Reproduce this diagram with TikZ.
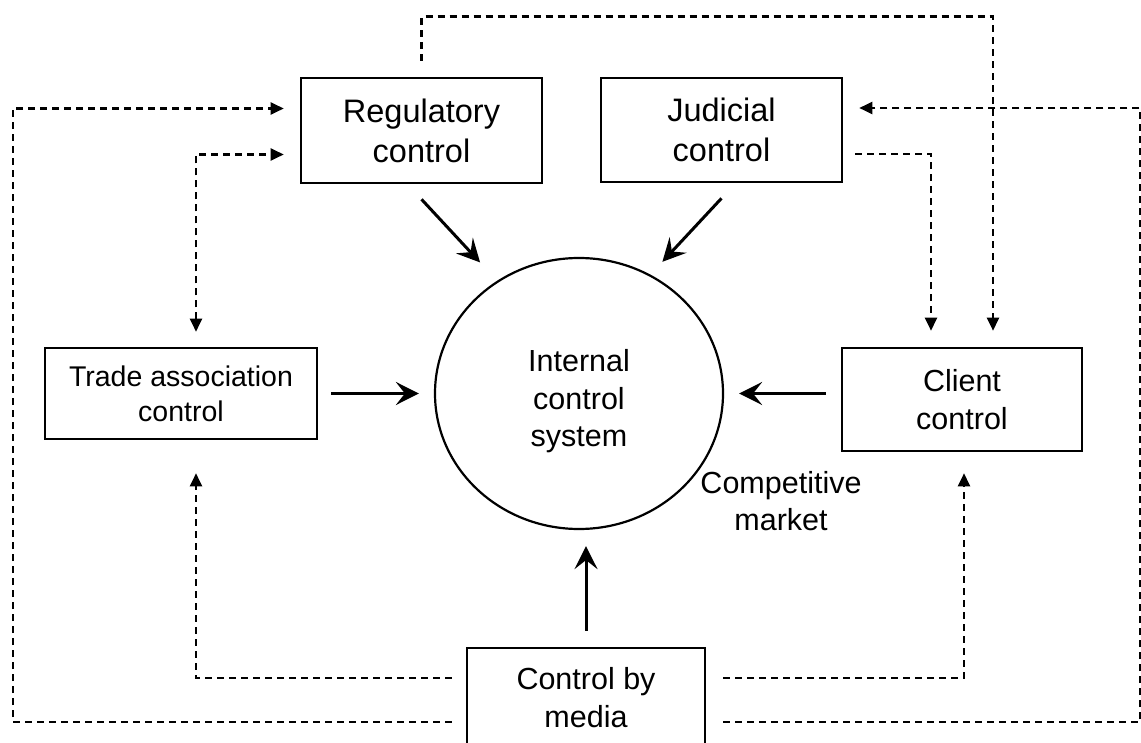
\documentclass[tikz,border=0pt]{standalone}
\usepackage{fontspec}
\setmainfont{Liberation Sans}
\usepackage{tikz}
\usetikzlibrary{shapes,arrows.meta}

\begin{document}
\begin{tikzpicture}[x=1pt,y=1pt,
    >={Triangle[length=13pt,width=12pt]},
    box/.style={draw=black,line width=2.6pt,minimum width=241pt,minimum height=104pt,inner sep=0pt,align=center,font=\fontsize{30.5}{38}\selectfont},
    lbl/.style={inner sep=0pt,align=center,font=\fontsize{30.5}{37.5}\selectfont},
    flow/.style={line width=3pt,-{Stealth[length=23pt,width=23pt,inset=9pt]}},
    dflow/.style={line width=2.4pt,dash pattern=on 7pt off 5pt,->}]
      \useasboundingbox (0,0) rectangle (1141,-743);
      \node[box,minimum height=105pt,font=\fontsize{32.5}{40}\selectfont] (reg) at (421.5,-130.5) {Regulatory\\control};
      \node[box,font=\fontsize{32.5}{40}\selectfont] (jud) at (721.5,-130) {Judicial\\control};
      \node[box,minimum width=272pt,minimum height=91pt,font=\fontsize{28.5}{35}\selectfont] (trade) at (181,-393.5) {Trade association\\control};
      \node[box,minimum width=240pt,minimum height=103pt] (client) at (962,-399.5) {Client\\control};
      \node[box,minimum width=238pt,minimum height=100pt] (media) at (586,-698) {Control by\\media};
      \node[draw=black,line width=2.2pt,ellipse,minimum width=288pt,minimum height=271pt,inner sep=0pt] (ics) at (579,-393.5) {};
      \node[lbl] (icstext) at ([yshift=-8pt]ics.center) {Internal\\control\\system};
      \node[lbl] (market) at (781,-501) {Competitive\\market};
      \draw[flow,shorten >=25pt] ([yshift=-15pt]reg.south) -- (ics.126);
      \draw[flow,shorten >=17.5pt] ([yshift=-15pt]jud.south) -- (ics.59);
      \draw[flow,shorten <=13pt,shorten >=15pt] (trade.east) -- (ics.west);
      \draw[flow,shorten <=15pt,shorten >=15pt] (client.west |- ics.east) -- (ics.east);
      \draw[flow,shorten <=16pt,shorten >=16pt] (media.north) -- (media.north |- ics.south);
      \draw[dflow] ([yshift=16pt]reg.north) -- ++(0,44) -| ([shift={(31,16)}]client.north);
      \draw[dflow] ([shift={(17,-24)}]media.east) -- ++(417,0) |- ([shift={(16,22)}]jud.east);
      \draw[dflow] ([shift={(12,-24)}]jud.east) -| ([shift={(-31,16)}]client.north);
      \draw[dflow] ([shift={(-14,-24)}]media.west) -- ++(-439,0) |- ([shift={(-16,22)}]reg.west);
      \draw[dflow,<->] ([shift={(15,15)}]trade.north) |- ([shift={(-16,-24)}]reg.west);
      \draw[dflow] ([shift={(-14,20)}]media.west) -| ([shift={(15,-33)}]trade.south);
      \draw[dflow] ([shift={(17,20)}]media.east) -| ([shift={(2,-21)}]client.south);
\end{tikzpicture}
\end{document}
